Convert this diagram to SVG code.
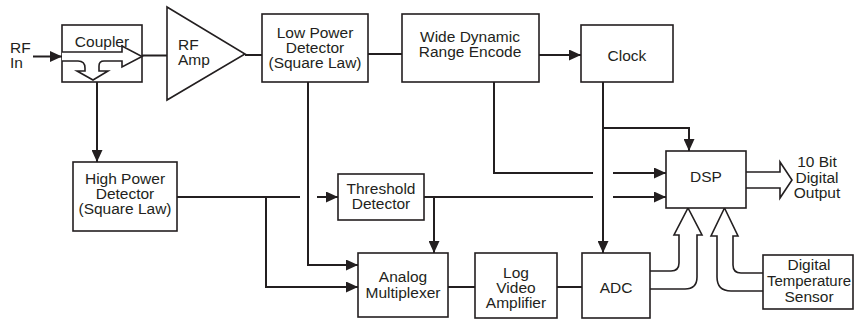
<svg xmlns="http://www.w3.org/2000/svg" width="856" height="320" viewBox="0 0 856 320">
<defs>
<marker id="ah" markerUnits="userSpaceOnUse" markerWidth="12" markerHeight="11" refX="12" refY="5.5" orient="auto">
<path d="M0,0 L12,5.5 L0,11 z" fill="#231f20"/>
</marker>
<style>
.box{fill:#fff;stroke:#231f20;stroke-width:1.6}
.ln{fill:none;stroke:#231f20;stroke-width:2}
.arr{fill:none;stroke:#231f20;stroke-width:2;marker-end:url(#ah)}
.hol{fill:#fff;stroke:#231f20;stroke-width:1.6;stroke-linejoin:miter}
text{font-family:"Liberation Sans",Arial,sans-serif;font-size:15.5px;fill:#231f20;text-anchor:middle}
.l{text-anchor:start}
</style>
</defs>
<g id="connectors">
<path class="arr" d="M33,56.5 H62"/>
<path class="ln" d="M142,55.5 H167"/>
<path class="ln" d="M245,55 H262"/>
<path class="ln" d="M368,54 H402"/>
<path class="arr" d="M539,55 H581"/>
<path class="arr" d="M97,82 V162"/>
<path class="ln" d="M177,197 H300"/>
<path class="arr" d="M317,197 H338"/>
<path class="arr" d="M266,197 V287 H358"/>
<path class="arr" d="M308,82 V265 H358"/>
<path class="ln" d="M424,197 H593"/>
<path class="arr" d="M613,197 H666"/>
<path class="arr" d="M434,197 V253"/>
<path class="ln" d="M494,82 V173 H593"/>
<path class="arr" d="M613,173 H666"/>
<path class="arr" d="M603,82 V253"/>
<path class="arr" d="M603,128 H689 V151"/>
<path class="ln" d="M448,287 H475"/>
<path class="ln" d="M557,287 H582"/>
<path class="hol" d="M746,172 H780 V162 L792,180 L780,198 V188 H746"/>
<path class="hol" d="M650,271 H671 Q679,271 679,263 V235 H674 L688,208 L702,235 H697 V277 Q697,289 685,289 H650"/>
<path class="hol" d="M763,273 H741 Q733,273 733,265 V236 H738 L724.5,208 L711,236 H717 V277 Q717,291 731,291 H763"/>
</g>
<g id="rfin">
<text class="l" x="10" y="53">RF</text>
<text class="l" x="10" y="68">In</text>
</g>
<g id="coupler">
<rect class="box" x="62" y="25" width="80" height="57"/>
<text x="102" y="47">Coupler</text>
<path class="hol" d="M62,52 H122 V46 L142,56.5 L122,67 V61 H104 Q99,61 99,66 V71 H108 L93,80 L77,71 H85 V68 Q85,61 78,61 H62"/>
</g>
<g id="rfamp">
<path class="box" d="M167,7 L245,54 L167,100 z"/>
<text class="l" x="178" y="50">RF</text>
<text class="l" x="178" y="65">Amp</text>
</g>
<g id="lowpower">
<rect class="box" x="262" y="14" width="106" height="68"/>
<text x="315" y="38">Low Power</text>
<text x="315" y="53">Detector</text>
<text x="315" y="68">(Square Law)</text>
</g>
<g id="wide">
<rect class="box" x="402" y="14" width="137" height="68"/>
<text x="470" y="42">Wide Dynamic</text>
<text x="470" y="57">Range Encode</text>
</g>
<g id="clock">
<rect class="box" x="581" y="25" width="92" height="57"/>
<text x="627" y="61">Clock</text>
</g>
<g id="highpower">
<rect class="box" x="73" y="162" width="104" height="69"/>
<text x="125" y="184">High Power</text>
<text x="125" y="199">Detector</text>
<text x="125" y="214">(Square Law)</text>
</g>
<g id="threshold">
<rect class="box" x="338" y="174" width="86" height="46"/>
<text x="381" y="194">Threshold</text>
<text x="381" y="209">Detector</text>
</g>
<g id="mux">
<rect class="box" x="358" y="253" width="90" height="64"/>
<text x="403" y="282">Analog</text>
<text x="403" y="298">Multiplexer</text>
</g>
<g id="logvideo">
<rect class="box" x="475" y="253" width="82" height="65"/>
<text x="516" y="278">Log</text>
<text x="516" y="293">Video</text>
<text x="516" y="308">Amplifier</text>
</g>
<g id="adc">
<rect class="box" x="582" y="253" width="68" height="65"/>
<text x="616" y="293">ADC</text>
</g>
<g id="dsp">
<rect class="box" x="666" y="151" width="80" height="57"/>
<text x="706" y="182">DSP</text>
</g>
<g id="output">
<text x="817" y="167">10 Bit</text>
<text x="817" y="183">Digital</text>
<text x="817" y="198">Output</text>
</g>
<g id="tempsensor">
<rect class="box" x="763" y="255" width="90" height="54"/>
<text x="809" y="270">Digital</text>
<text x="809" y="286" textLength="84" lengthAdjust="spacingAndGlyphs">Temperature</text>
<text x="809" y="302">Sensor</text>
</g>
</svg>
